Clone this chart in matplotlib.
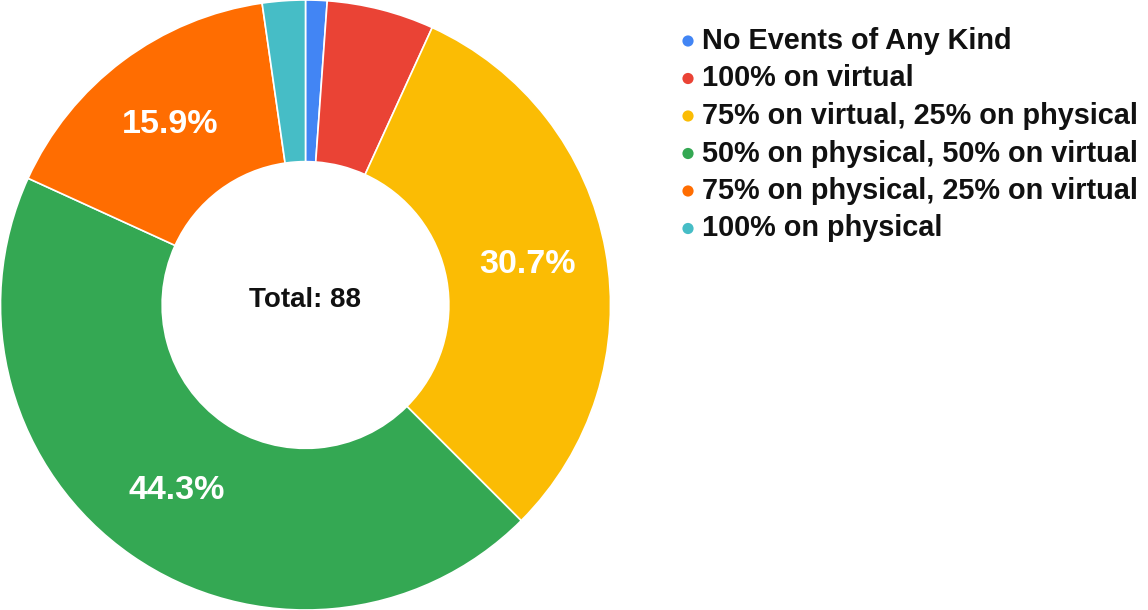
import matplotlib
matplotlib.use("Agg")
import matplotlib.pyplot as plt

plt.rcParams["font.family"] = ["Liberation Sans", "DejaVu Sans"]

labels = [
    "No Events of Any Kind",
    "100% on virtual",
    "75% on virtual, 25% on physical",
    "50% on physical, 50% on virtual",
    "75% on physical, 25% on virtual",
    "100% on physical",
]
counts = [1, 5, 27, 39, 14, 2]
colors = ["#4285F4", "#EA4335", "#FBBC04", "#34A853", "#FF6D01", "#46BDC6"]

W, H = 1148, 610
fig = plt.figure(figsize=(W / 100, H / 100), dpi=100)

# donut
ax = fig.add_axes([0.5 / W, 0, 610 / W, 1])
total = sum(counts)
wedges, _, autotexts = ax.pie(
    counts, colors=colors, startangle=90, counterclock=False,
    radius=1.0, wedgeprops=dict(width=0.53, edgecolor="white", linewidth=1.2),
    autopct=lambda p: f"{p:.1f}%" if p > 10 else "", pctdistance=0.74,
)
for t in autotexts:
    t.set_color("white")
    t.set_fontsize(24.5)
    t.set_fontweight("bold")
ax.text(0, 0.015, f"Total: {total}", ha="center", va="center",
        fontsize=20, fontweight="bold", color="#111111")
ax.set_xlim(-1.0, 1.0)
ax.set_ylim(-1.0, 1.0)
ax.set_aspect("equal")
ax.axis("off")

# legend
lax = fig.add_axes([0, 0, 1, 1])
lax.set_xlim(0, W)
lax.set_ylim(H, 0)
lax.axis("off")
y0, dy = 41, 37.5
for i, (lab, c) in enumerate(zip(labels, colors)):
    y = y0 + i * dy
    lax.scatter([688], [y], s=65, color=c, edgecolors="none")
    lax.text(702, y, lab, ha="left", va="center", fontsize=20.8,
             fontweight="bold", color="#111111")

fig.savefig("out.png", dpi=100, facecolor="white")
